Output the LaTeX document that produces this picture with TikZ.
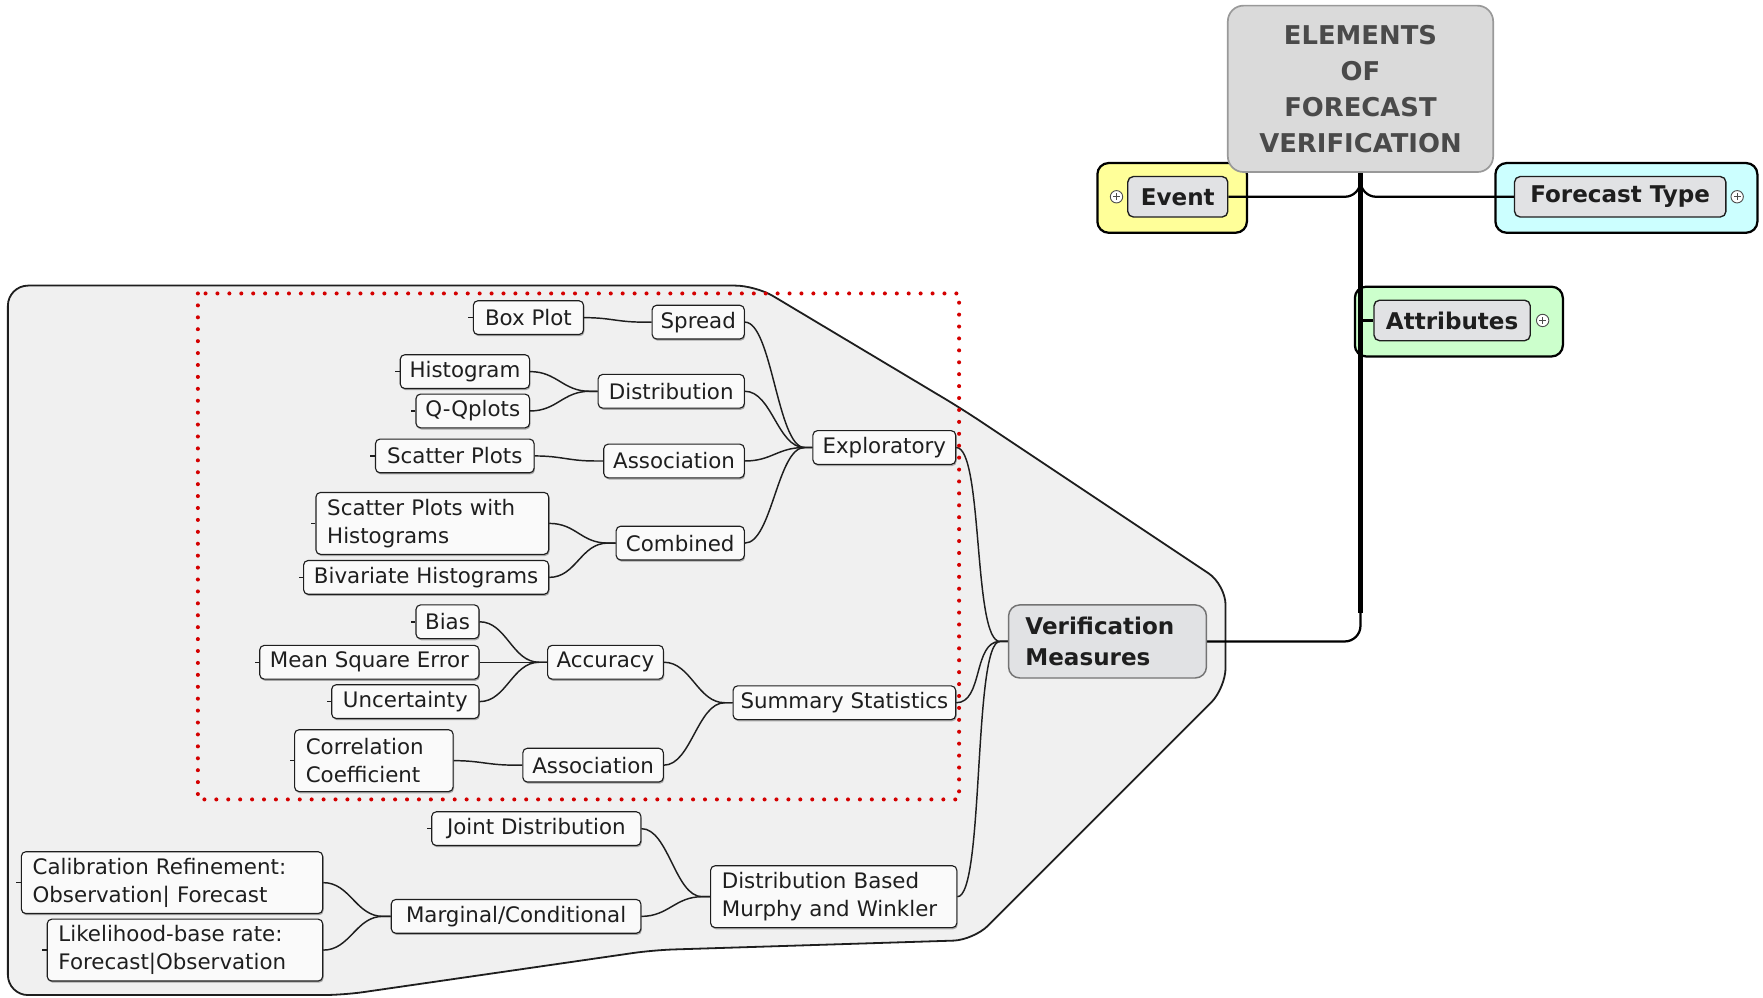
\documentclass[tikz,border=0pt]{standalone}
\usepackage{fontspec}
\setmainfont{DejaVu Sans}
\usetikzlibrary{shadows,backgrounds}
\definecolor{regiongray}{HTML}{F0F0F0}
\definecolor{leaffill}{HTML}{FAFAFA}
\definecolor{topicfill}{HTML}{E1E2E4}
\definecolor{rootfill}{HTML}{DADADA}
\definecolor{evtyellow}{HTML}{FFFF99}
\definecolor{ftcyan}{HTML}{CCFFFF}
\definecolor{attgreen}{HTML}{CCFFCC}
\definecolor{dotred}{HTML}{D40000}
\definecolor{inkdark}{HTML}{1E1E1E}
\definecolor{roottext}{HTML}{4A4A4A}
\newcommand\mmconn[2]{\draw[conn] (#1.east) .. controls +(24,0) and +(-24,0) .. ([xshift=-7pt]#2.west) -- (#2.west);}
\newcommand\mmstub[1]{\draw[conn] (#1.west) -- ++(-4,0);}
\begin{document}
\begin{tikzpicture}[x=1pt,y=-1pt,
  leaf/.style={draw=inkdark, fill=leaffill, rounded corners=4pt, line width=1pt,
    font=\fontsize{19}{25}\selectfont, text=inkdark, inner xsep=6pt, inner ysep=0pt,
    minimum height=30pt,
    drop shadow={shadow xshift=0.8pt, shadow yshift=-1.5pt, opacity=0.3, fill=black}},
  twoline/.style={leaf, align=left, text width=#1, inner xsep=10pt, minimum height=55pt},
  topic/.style={draw=inkdark, fill=topicfill, rounded corners=5pt, line width=1.2pt,
    font=\bfseries\fontsize{20.5}{28}\selectfont, text=inkdark, inner xsep=6pt, inner ysep=0pt,
    minimum height=36pt},
  vmbox/.style={draw=black!55, fill=topicfill, rounded corners=10pt, line width=1.3pt,
    font=\bfseries\fontsize{20.5}{28}\selectfont, text=inkdark, align=left,
    text width=146pt, inner xsep=15pt, inner ysep=0pt, minimum height=65pt},
  rootbox/.style={draw=black!40, fill=rootfill, rounded corners=14pt, line width=1.5pt,
    minimum width=236pt, minimum height=148pt, align=center,
    font=\bfseries\fontsize{23}{32}\selectfont, text=roottext},
  outerbox/.style={draw=black, line width=2pt, rounded corners=10pt},
  plusicon/.style={circle, draw=black!70, fill=white, minimum size=11pt, inner sep=0pt, line width=0.8pt,
    path picture={\draw[black!70, line width=0.8pt]
      ([xshift=-3pt]path picture bounding box.center) -- ([xshift=3pt]path picture bounding box.center)
      ([yshift=-3pt]path picture bounding box.center) -- ([yshift=3pt]path picture bounding box.center);}},
  conn/.style={draw=inkdark, line width=1.3pt},
  rootconn/.style={draw=black, line width=2pt, rounded corners=14pt},
  trunk/.style={draw=black, line width=5pt},
  region/.style={fill=regiongray, draw=inkdark, line width=1.6pt, rounded corners=18pt},
  reddots/.style={draw=dotred, line width=3.6pt, line cap=round, dash pattern=on 0pt off 10.6pt}
]
\useasboundingbox (0,0) rectangle (1568,887);

% ---- nodes ----
\node[rootbox] (root) at (1210,79) {ELEMENTS\\OF\\FORECAST\\VERIFICATION};
\node[vmbox] (vm) at (985,570.5) {Verification\\Measures};
\node[topic, minimum width=89pt] (event) at (1047.5,175) {Event};
\node[topic, minimum width=188pt] (ftype) at (1441,175) {Forecast Type};
\node[topic, minimum width=139pt] (attr) at (1291.5,285) {Attributes};

\node[leaf, minimum width=98pt] (boxplot) at (470,282.5) {Box Plot};
\node[leaf, minimum width=82pt] (spread) at (621,286.5) {Spread};
\node[leaf, minimum width=115pt] (histogram) at (413.5,330.5) {Histogram};
\node[leaf, minimum width=101pt] (qqplots) at (420.5,365.5) {Q-Qplots};
\node[leaf, minimum width=130pt] (distrib) at (597,348) {Distribution};
\node[leaf, minimum width=141pt] (scatter) at (404.5,405.5) {Scatter Plots};
\node[leaf, minimum width=125pt] (assocA) at (599.5,410) {Association};
\node[leaf, minimum width=127pt] (explor) at (786.5,398) {Exploratory};
\node[twoline=187pt] (spwh) at (384.5,465.5) {Scatter Plots with\\Histograms};
\node[leaf, minimum width=114pt] (combined) at (605,483) {Combined};
\node[leaf, minimum width=218pt] (bivar) at (379,513.5) {Bivariate Histograms};
\node[leaf, minimum width=56pt] (bias) at (398,553) {Bias};
\node[leaf, minimum width=195pt] (mse) at (328.5,589) {Mean Square Error};
\node[leaf, minimum width=131pt] (uncert) at (360.5,624) {Uncertainty};
\node[leaf, minimum width=103pt] (accuracy) at (538.5,589) {Accuracy};
\node[leaf, minimum width=198pt] (summ) at (751,625) {Summary Statistics};
\node[twoline=121pt] (corrcoef) at (332.5,676.5) {Correlation\\Coefficient};
\node[leaf, minimum width=125pt] (assocB) at (527.5,680.5) {Association};
\node[leaf, minimum width=186pt] (jointd) at (477,737) {Joint Distribution};
\node[twoline=248pt] (calib) at (153,785) {Calibration Refinement:\\Observation| Forecast};
\node[twoline=225pt] (likeli) at (164.5,845) {Likelihood-base rate:\\Forecast|Observation};
\node[leaf, minimum width=222pt] (margcond) at (459,815) {Marginal/Conditional};
\node[twoline=199pt] (distb) at (741.5,797.5) {Distribution Based\\Murphy and Winkler};

\node[plusicon] (eventplus) at (993,175) {};
\node[plusicon] (ftypeplus) at (1545,175) {};
\node[plusicon] (attrplus) at (1372,285) {};

\coordinate (trunkend) at (1210,545);
\coordinate (attrjoin) at (1210,285);

% ---- background ----
\begin{scope}[on background layer]
\fill[white] (0,0) rectangle (1568,887);
\filldraw[region] (7,254) -- (672,254) -- (856,364) -- (1090,520) -- (1090,612)
  -- (866,836) -- (581,845) -- (305,885) -- (7,885) -- cycle;
\node[outerbox, fill=evtyellow, minimum width=133pt, minimum height=62pt] (eventbg) at (1042.5,176) {};
\node[outerbox, fill=ftcyan, minimum width=233pt, minimum height=62pt] (ftypebg) at (1446.5,176) {};
\node[outerbox, fill=attgreen, minimum width=185pt, minimum height=62pt] (attrbg) at (1297.5,286) {};

\draw[rootconn] (event.east) -| (root.south);
\draw[rootconn] (ftype.west) -| (root.south);
\draw[rootconn] (root.south) |- (vm.east);
\draw[trunk] (root.south) -- (trunkend);
\draw[rootconn] (attrjoin) -- (attr.west);

\mmconn{boxplot}{spread}
\mmconn{histogram}{distrib}
\mmconn{qqplots}{distrib}
\mmconn{scatter}{assocA}
\mmconn{spwh}{combined}
\mmconn{bivar}{combined}
\mmconn{spread}{explor}
\mmconn{distrib}{explor}
\mmconn{assocA}{explor}
\mmconn{combined}{explor}
\mmconn{bias}{accuracy}
\mmconn{mse}{accuracy}
\mmconn{uncert}{accuracy}
\mmconn{corrcoef}{assocB}
\mmconn{accuracy}{summ}
\mmconn{assocB}{summ}
\mmconn{jointd}{distb}
\mmconn{calib}{margcond}
\mmconn{likeli}{margcond}
\mmconn{margcond}{distb}
\mmconn{explor}{vm}
\mmconn{summ}{vm}
\mmconn{distb}{vm}

\mmstub{boxplot}
\mmstub{histogram}
\mmstub{qqplots}
\mmstub{scatter}
\mmstub{spwh}
\mmstub{bivar}
\mmstub{bias}
\mmstub{mse}
\mmstub{uncert}
\mmstub{corrcoef}
\mmstub{jointd}
\mmstub{calib}
\mmstub{likeli}
\end{scope}

% ---- red dotted frame on top ----
\draw[reddots] (176,261) rectangle (853,711);
\end{tikzpicture}
\end{document}
